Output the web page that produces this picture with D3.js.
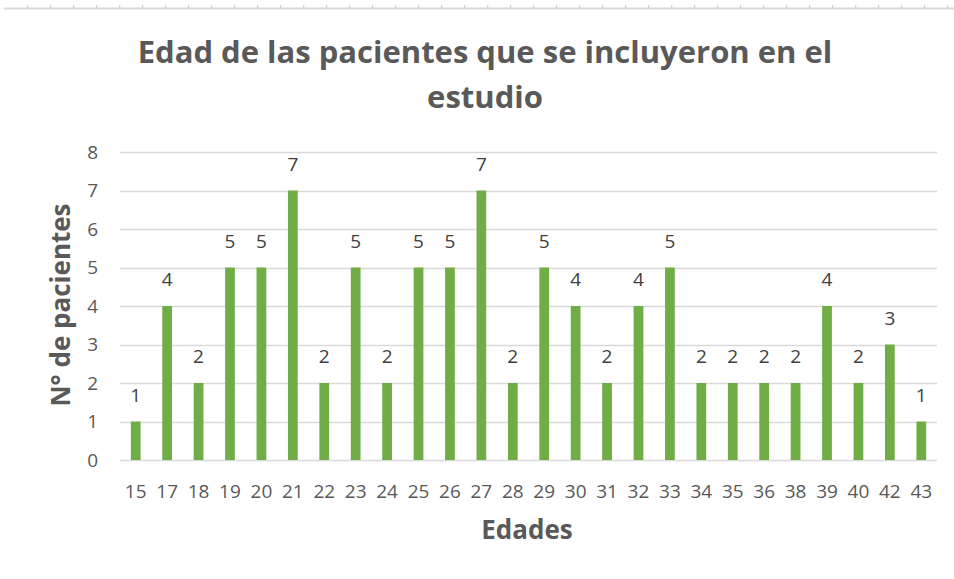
<!DOCTYPE html>
<html>
<head>
<meta charset="utf-8">
<script src="https://cdn.jsdelivr.net/npm/d3@7"></script>
<style>
  body { margin: 0; background: #fff; }
  svg { display: block; font-family: "Open Sans", sans-serif; }
</style>
</head>
<body>
<div class="chart"></div>
<script>
// edades (categorias) y numero de pacientes
var edades = ['15', '17', '18', '19', '20', '21', '22', '23', '24', '25', '26', '27', '28',
              '29', '30', '31', '32', '33', '34', '35', '36', '38', '39', '40', '42', '43'];
var pacientes = [1, 4, 2, 5, 5, 7, 2, 5, 2, 5, 5, 7, 2, 5, 4, 2, 4, 5, 2, 2, 2, 2, 4, 2, 3, 1];
var yTicks = [0, 1, 2, 3, 4, 5, 6, 7, 8];

var config = {};
config.svg = { width: 954, height: 579 };
config.plot = { left: 120, right: 937, top: 152, bottom: 460 };

var textColor = '#595959';
var barColor = '#70ad47';

var rows = edades.map((e, i) => ({ edad: e, n: pacientes[i] }));

var svg = d3.select('.chart')
    .append('svg')
    .attr('width', config.svg.width)
    .attr('height', config.svg.height);

// ruler strip at the very top (screenshot artifact)
svg.append('line')
    .attr('x1', 4).attr('x2', 954)
    .attr('y1', 8.5).attr('y2', 8.5)
    .attr('stroke', '#d9d9d9')
    .attr('stroke-width', 2);
svg.selectAll('line.rule')
    .data(d3.range(27.7, 954, 23))
    .enter().append('line')
    .attr('class', 'rule')
    .attr('x1', d => d).attr('x2', d => d)
    .attr('y1', 5).attr('y2', 8)
    .attr('stroke', '#c8c8c8');

var xScale = d3.scaleBand()
    .domain(edades)
    .range([config.plot.left, config.plot.right])
    .paddingInner(0.69)
    .paddingOuter(0.345);

var yScale = d3.scaleLinear()
    .domain([0, 8])
    .range([config.plot.bottom, config.plot.top]);

// gridlines
svg.append('g')
    .selectAll('line')
    .data(yTicks)
    .enter().append('line')
    .attr('x1', config.plot.left)
    .attr('x2', config.plot.right)
    .attr('y1', d => Math.round(yScale(d)) + 0.5)
    .attr('y2', d => Math.round(yScale(d)) + 0.5)
    .attr('stroke', '#d9d9d9')
    .attr('stroke-width', 1.3);

// y axis labels
var yAxis = d3.axisLeft(yScale)
    .tickValues(yTicks)
    .tickSize(0)
    .tickPadding(0)
    .tickFormat(d3.format('d'));

var yG = svg.append('g')
    .attr('transform', 'translate(98,0)')
    .call(yAxis);
yG.select('.domain').remove();
yG.selectAll('text')
    .attr('fill', textColor)
    .attr('font-size', '19px')
    .attr('font-family', '"Open Sans", sans-serif');

// bars
svg.selectAll('rect.bar')
    .data(rows)
    .enter().append('rect')
    .attr('class', 'bar')
    .attr('x', d => xScale(d.edad))
    .attr('width', xScale.bandwidth())
    .attr('y', d => yScale(d.n))
    .attr('height', d => yScale(0) - yScale(d.n))
    .attr('fill', barColor);

// data labels
svg.selectAll('text.lbl')
    .data(rows)
    .enter().append('text')
    .attr('class', 'lbl')
    .attr('x', d => xScale(d.edad) + xScale.bandwidth() / 2)
    .attr('y', d => yScale(d.n) - 20)
    .attr('text-anchor', 'middle')
    .attr('fill', '#404040')
    .attr('font-size', '19px')
    .text(d => d.n);

// x axis labels
var xAxis = d3.axisBottom(xScale)
    .tickSize(0)
    .tickPadding(0);
var xG = svg.append('g')
    .attr('transform', 'translate(0,484)')
    .call(xAxis);
xG.select('.domain').remove();
xG.selectAll('text')
    .attr('fill', textColor)
    .attr('font-size', '19px')
    .attr('font-family', '"Open Sans", sans-serif');

// title
var title = svg.append('text')
    .attr('x', 485)
    .attr('text-anchor', 'middle')
    .attr('fill', textColor)
    .attr('font-size', '31px')
    .attr('font-weight', 'bold');
title.append('tspan').attr('x', 485).attr('y', 63).text('Edad de las pacientes que se incluyeron en el');
title.append('tspan').attr('x', 485).attr('y', 108).text('estudio');

// axis titles
svg.append('text')
    .attr('transform', 'translate(70,305) rotate(-90)')
    .attr('text-anchor', 'middle')
    .attr('fill', textColor)
    .attr('font-size', '26px')
    .attr('font-weight', 'bold')
    .text('N° de pacientes');

svg.append('text')
    .attr('x', 527)
    .attr('y', 539)
    .attr('text-anchor', 'middle')
    .attr('fill', textColor)
    .attr('font-size', '26px')
    .attr('font-weight', 'bold')
    .text('Edades');
</script>
</body>
</html>
